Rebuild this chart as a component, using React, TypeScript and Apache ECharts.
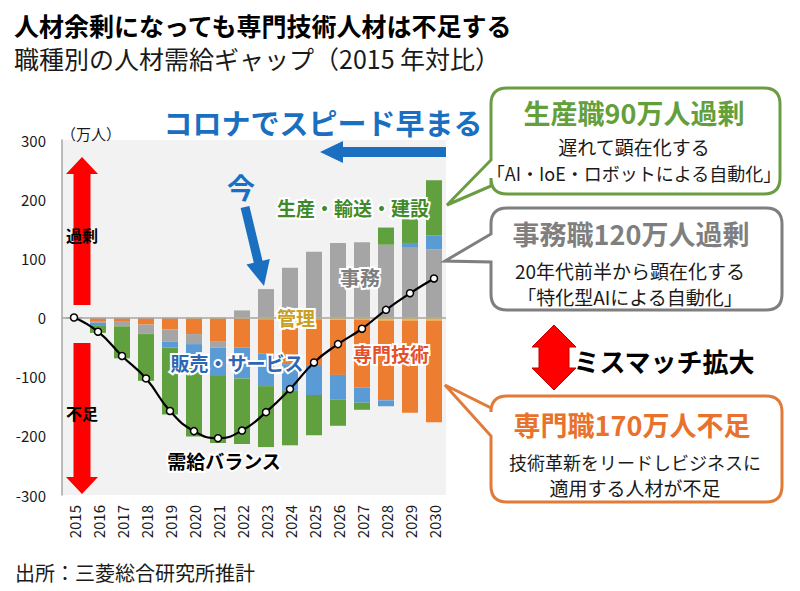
import React, { useEffect, useRef } from "react";
import * as echarts from "echarts";

const years = ["2015","2016","2017","2018","2019","2020","2021","2022","2023","2024","2025","2026","2027","2028","2029","2030"];
const kanri = [0, -1, -1, -1, -1, -2, -2, -2, -3, -3, -3, -4, -4, -5, -5, -5];
const senmon = [-1, -5, -5, -11, -19, -26, -39, -49, -58, -76, -79, -93, -114, -135, -156, -172];
const jimu = [0, -3, -9, -15, -21, -17, -10, 12, 48, 84, 111, 126, 127, 123, 119, 115];
const hanbai = [0, -4, 0, -1, -10, -20, -48, -52, -55, -45, -49, -42, -26, -10, 7, 24];
const seisan = [-1, -13, -54, -79, -113, -136, -113, -111, -103, -92, -68, -44, -12, 29, 44, 93];
const balance = [0, -24, -65, -103, -158, -192, -204, -191, -160, -121, -76, -45, -19, 13, 41, 66];

const FONT = "'Noto Sans CJK JP', 'Noto Sans', sans-serif";

function calloutPath(x0: number, y0: number, x1: number, y1: number, r: number, ya: number, yb: number, tx: number, ty: number) {
  return `M${x0 + r},${y0} H${x1 - r} Q${x1},${y0} ${x1},${y0 + r} V${y1 - r} Q${x1},${y1} ${x1 - r},${y1} H${x0 + r} Q${x0},${y1} ${x0},${y1 - r} V${yb} L${tx},${ty} L${x0},${ya} V${y0 + r} Q${x0},${y0} ${x0 + r},${y0} Z`;
}

let registered = false;
function registerShapes() {
  if (registered) return;
  registered = true;
  echarts.graphic.registerShape("calloutGreen", echarts.graphic.extendPath(calloutPath(491, 88, 780, 194, 16, 160, 186, 447, 205), {}) as any);
  echarts.graphic.registerShape("calloutGray", echarts.graphic.extendPath(calloutPath(491, 208, 782, 310, 16, 234, 262, 445, 261), {}) as any);
  echarts.graphic.registerShape("calloutOrange", echarts.graphic.extendPath(calloutPath(491, 396, 782, 502, 16, 408, 436, 445, 385), {}) as any);
}

function arrow(x1: number, y1: number, x2: number, y2: number, sw: number, hw: number, hl: number) {
  const dx = x2 - x1, dy = y2 - y1, L = Math.hypot(dx, dy);
  const ux = dx / L, uy = dy / L, nx = -uy, ny = ux;
  const bx = x2 - ux * hl, by = y2 - uy * hl;
  return [
    [x1 + nx * sw / 2, y1 + ny * sw / 2],
    [bx + nx * sw / 2, by + ny * sw / 2],
    [bx + nx * hw / 2, by + ny * hw / 2],
    [x2, y2],
    [bx - nx * hw / 2, by - ny * hw / 2],
    [bx - nx * sw / 2, by - ny * sw / 2],
    [x1 - nx * sw / 2, y1 - ny * sw / 2],
  ];
}

function txt(text: string, x: number, y: number, size: number, color: string, bold = true, align = "center", halo = false) {
  return {
    type: "text",
    x, y, z: 100,
    style: {
      text, fill: color, fontSize: size, fontWeight: bold ? "bold" : "normal", fontFamily: FONT,
      textAlign: align, align, textVerticalAlign: "middle", verticalAlign: "middle",
      ...(halo ? { stroke: "#ffffff", lineWidth: 4 } : {}),
    },
  };
}

export default function App() {
  const ref = useRef<HTMLDivElement>(null);
  useEffect(() => {
    if (!ref.current) return;
    registerShapes();
    const chart = echarts.init(ref.current, null, { renderer: "svg" });
    const barBase = { type: "bar", stack: "all", barWidth: 16, z: 2 };
    const option: any = {
      animation: false,
      backgroundColor: "#ffffff",
      textStyle: { fontFamily: FONT },
      grid: { left: 62, right: 354, top: 140, bottom: 96, show: true, backgroundColor: "#f2f2f2", borderWidth: 0 },
      xAxis: {
        type: "category", data: years,
        axisLine: { show: false, onZero: false }, axisTick: { show: false },
        axisLabel: { rotate: 90, fontSize: 15, color: "#1a1a1a", margin: 10, fontFamily: FONT, interval: 0 },
      },
      yAxis: {
        type: "value", min: -300, max: 300, interval: 100,
        axisLine: { show: true, lineStyle: { color: "#a6a6a6", width: 1.5 } },
        axisTick: { show: false }, splitLine: { show: false },
        axisLabel: { fontSize: 15, color: "#1a1a1a", margin: 16, fontFamily: FONT },
      },
      series: [
        { ...barBase, name: "管理", data: kanri, itemStyle: { color: "#ffc000" },
          markLine: { silent: true, symbol: "none", label: { show: false }, lineStyle: { color: "#a6a6a6", width: 1.5, type: "solid" }, data: [{ yAxis: 0 }] } },
        { ...barBase, name: "専門技術", data: senmon, itemStyle: { color: "#ed7d31" } },
        { ...barBase, name: "事務", data: jimu, itemStyle: { color: "#a5a5a5" } },
        { ...barBase, name: "販売・サービス", data: hanbai, itemStyle: { color: "#5b9bd5" } },
        { ...barBase, name: "生産・輸送・建設", data: seisan, itemStyle: { color: "#61a03f" } },
        { type: "line", name: "需給バランス", data: balance, smooth: true, z: 5,
          symbol: "circle", symbolSize: 7,
          lineStyle: { color: "#000000", width: 2.2 },
          itemStyle: { color: "#ffffff", borderColor: "#000000", borderWidth: 1.5 } },
      ],
      graphic: [
        txt("人材余剰になっても専門技術人材は不足する", 14, 25, 25, "#000000", true, "left"),
        txt("職種別の人材需給ギャップ（2015 年対比）", 14, 58, 25, "#1a1a1a", false, "left"),
        txt("（万人）", 61, 133, 15, "#1a1a1a", false, "left"),
        txt("出所：三菱総合研究所推計", 15, 572, 20, "#1a1a1a", false, "left"),
        // blue annotations
        txt("コロナでスピード早まる", 323, 122, 29, "#1a6fc0", true),
        { type: "polygon", z: 50, shape: { points: arrow(446, 152, 320, 152, 10, 22, 23) }, style: { fill: "#1a6fc0" } },
        txt("今", 241, 187, 28, "#1a6fc0", true),
        { type: "polygon", z: 50, shape: { points: arrow(245, 207, 264, 286, 9, 24, 25) }, style: { fill: "#1a6fc0" } },
        // red arrows
        { type: "polygon", z: 50, shape: { points: arrow(82, 305, 82, 157, 17, 32, 17) }, style: { fill: "#ff0000" } },
        { type: "polygon", z: 50, shape: { points: arrow(82, 343, 82, 494, 17, 32, 17) }, style: { fill: "#ff0000" } },
        txt("過剰", 82, 235, 16, "#000000", true),
        txt("不足", 82, 413, 16, "#000000", true),
        // in-chart labels
        txt("生産・輸送・建設", 353, 207, 19, "#3e8a2a", true, "center", true),
        txt("事務", 360, 277, 20, "#7f7f7f", true, "center", true),
        txt("管理", 296, 317, 19, "#c9a021", true, "center", true),
        txt("販売・サービス", 237, 362, 19, "#2f66b3", true, "center", true),
        txt("専門技術", 391, 353, 19, "#e4502a", true, "center", true),
        txt("需給バランス", 224, 460, 19, "#000000", true, "center", true),
        // callouts
        { type: "calloutGreen", x: 0, y: 0, z: 60, style: { fill: "#ffffff", stroke: "#6a9d43", lineWidth: 3 } },
        txt("生産職90万人過剰", 634, 112, 27, "#63a03c", true),
        txt("遅れて顕在化する", 634, 146, 19, "#1a1a1a", false),
        txt("「AI・IoE・ロボットによる自動化」", 634, 173, 18, "#1a1a1a", false),
        { type: "calloutGray", x: 0, y: 0, z: 60, style: { fill: "#ffffff", stroke: "#7f7f7f", lineWidth: 3 } },
        txt("事務職120万人過剰", 631, 233, 27, "#7f7f7f", true),
        txt("20年代前半から顕在化する", 630, 270, 19, "#1a1a1a", false),
        txt("「特化型AIによる自動化」", 630, 296, 19, "#1a1a1a", false),
        { type: "polygon", z: 50, shape: { points: [[554, 325], [576, 347], [569, 347], [569, 368], [576, 368], [554, 390], [532, 368], [539, 368], [539, 347], [532, 347]] }, style: { fill: "#ff0000", stroke: "#c00000", lineWidth: 1 } },
        txt("ミスマッチ拡大", 664, 360, 26, "#000000", true),
        { type: "calloutOrange", x: 0, y: 0, z: 60, style: { fill: "#ffffff", stroke: "#e07b39", lineWidth: 3 } },
        txt("専門職170万人不足", 632, 424, 27, "#e8722c", true),
        txt("技術革新をリードしビジネスに", 635, 462, 18, "#1a1a1a", false),
        txt("適用する人材が不足", 635, 487, 19, "#1a1a1a", false),
      ],
    };
    chart.setOption(option);
    return () => chart.dispose();
  }, []);
  return <div ref={ref} style={{ position: "absolute", left: 0, top: 0, width: 800, height: 591 }} />;
}
